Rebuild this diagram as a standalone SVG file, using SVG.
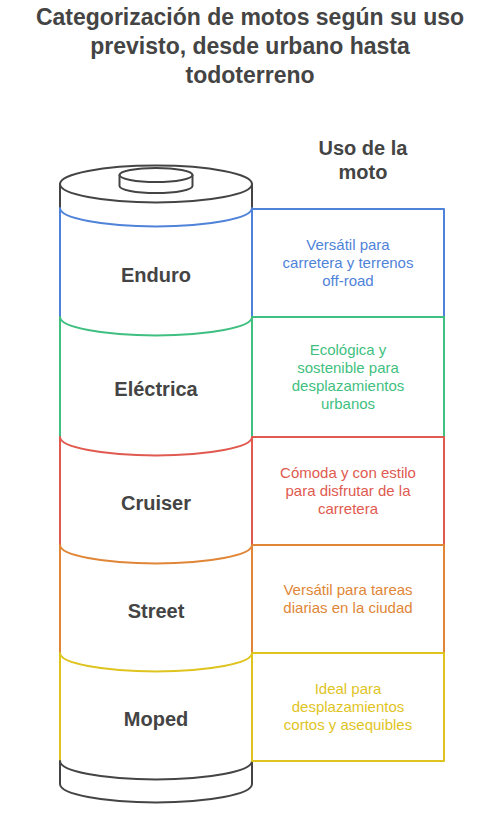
<svg xmlns="http://www.w3.org/2000/svg" width="504" height="824" viewBox="0 0 504 824">
<style>
.t{font-family:"Liberation Sans",Arial,sans-serif;font-weight:bold;fill:#444;text-anchor:middle}
.d{font-family:"Liberation Sans",Arial,sans-serif;font-size:15px;text-anchor:middle}
.s{fill:none;stroke-width:2;stroke-linecap:round;stroke-linejoin:round}
.dk{stroke:#444}
</style>
<rect width="504" height="824" fill="#fff"/>
<g id="title">
<text class="t" x="250" y="25" font-size="23">Categorización de motos según su uso</text>
<text class="t" x="250" y="54" font-size="23">previsto, desde urbano hasta</text>
<text class="t" x="250" y="83" font-size="23">todoterreno</text>
</g>
<g id="header">
<text class="t" x="363" y="155" font-size="20">Uso de la</text>
<text class="t" x="363" y="179" font-size="20">moto</text>
</g>
<g id="cylinder-top">
<ellipse class="s dk" cx="156" cy="184" rx="96" ry="18.5" fill="#fff"/>
<path class="s dk" d="M60,184 V208 M252,184 V208"/>
<path class="s dk" d="M119.5,175 V186 A36.5,7 0 0 0 192.5,186 V175" fill="#fff"/>
<ellipse class="s dk" cx="156" cy="175" rx="36.5" ry="7" fill="#fff"/>
</g>
<g id="seg-enduro">
<path class="s" stroke="#4f83d9" d="M60,317 V208 A96,18.5 0 0 0 252,208 V317"/>
<text class="t" x="156" y="282" font-size="20">Enduro</text>
</g>
<g id="seg-electrica">
<path class="s" stroke="#3fbf80" d="M60,437 V317 A96,18.5 0 0 0 252,317 V437"/>
<text class="t" x="156" y="396" font-size="20">Eléctrica</text>
</g>
<g id="seg-cruiser">
<path class="s" stroke="#e05a50" d="M60,545 V437 A96,18.5 0 0 0 252,437 V545"/>
<text class="t" x="156" y="510" font-size="20">Cruiser</text>
</g>
<g id="seg-street">
<path class="s" stroke="#e08636" d="M60,653 V545 A96,18.5 0 0 0 252,545 V653"/>
<text class="t" x="156" y="618" font-size="20">Street</text>
</g>
<g id="seg-moped">
<path class="s" stroke="#dfc41f" d="M60,761 V653 A96,18.5 0 0 0 252,653 V761"/>
<text class="t" x="156" y="726" font-size="20">Moped</text>
</g>
<g id="cylinder-bottom">
<path class="s dk" d="M60,761 A96,18.5 0 0 0 252,761 M60,761 V784 A96,18.5 0 0 0 252,784 V761"/>
</g>
<g id="box-enduro">
<rect class="s" stroke="#4f83d9" x="252" y="209" width="192" height="108" fill="#fff"/>
<text class="d" fill="#4f83d9" x="348" y="250">Versátil para</text>
<text class="d" fill="#4f83d9" x="348" y="268">carretera y terrenos</text>
<text class="d" fill="#4f83d9" x="348" y="286">off-road</text>
</g>
<g id="box-electrica">
<rect class="s" stroke="#3fbf80" x="252" y="317" width="192" height="120" fill="#fff"/>
<text class="d" fill="#3fbf80" x="348" y="355">Ecológica y</text>
<text class="d" fill="#3fbf80" x="348" y="373">sostenible para</text>
<text class="d" fill="#3fbf80" x="348" y="391">desplazamientos</text>
<text class="d" fill="#3fbf80" x="348" y="409">urbanos</text>
</g>
<g id="box-cruiser">
<rect class="s" stroke="#e05a50" x="252" y="437" width="192" height="108" fill="#fff"/>
<text class="d" fill="#e05a50" x="348" y="478">Cómoda y con estilo</text>
<text class="d" fill="#e05a50" x="348" y="496">para disfrutar de la</text>
<text class="d" fill="#e05a50" x="348" y="514">carretera</text>
</g>
<g id="box-street">
<rect class="s" stroke="#e08636" x="252" y="545" width="192" height="108" fill="#fff"/>
<text class="d" fill="#e08636" x="348" y="595">Versátil para tareas</text>
<text class="d" fill="#e08636" x="348" y="613">diarias en la ciudad</text>
</g>
<g id="box-moped">
<rect class="s" stroke="#dfc41f" x="252" y="653" width="192" height="108" fill="#fff"/>
<text class="d" fill="#dfc41f" x="348" y="694">Ideal para</text>
<text class="d" fill="#dfc41f" x="348" y="712">desplazamientos</text>
<text class="d" fill="#dfc41f" x="348" y="730">cortos y asequibles</text>
</g>
</svg>
